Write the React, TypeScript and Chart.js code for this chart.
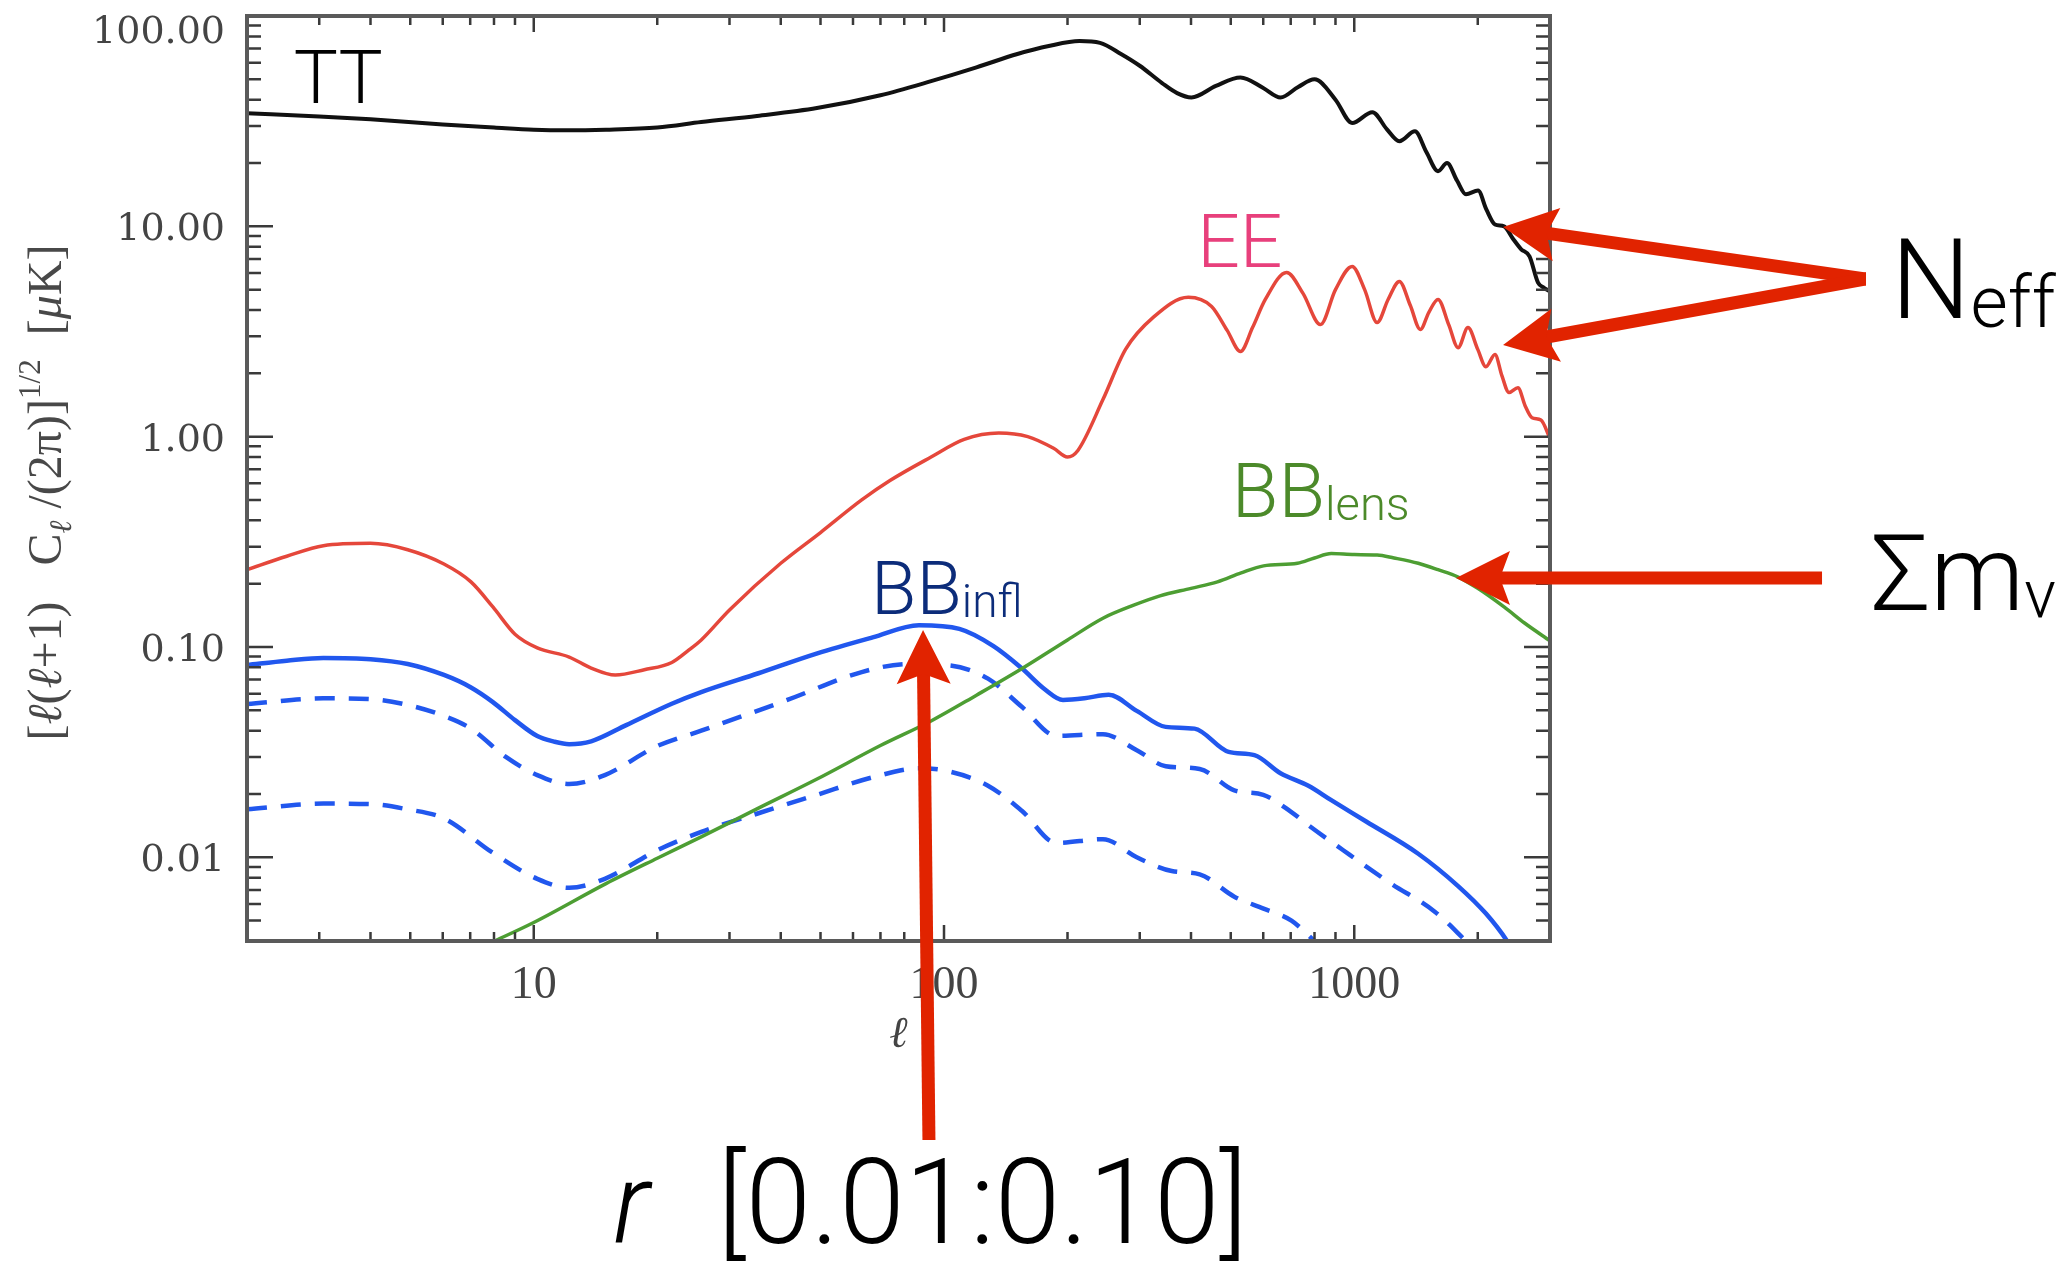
import React, { useEffect, useRef } from 'react';
import { Chart, registerables } from 'chart.js';

Chart.register(...registerables);

const CANVAS_W = 2067;
const CANVAS_H = 1264;

// ---- axes ----
const X_MIN = 2;
const X_MAX = 3000;
const Y_MIN = 0.004;
const Y_MAX = 100;
const X_TICKS = [10, 100, 1000];
const X_TICK_LABELS = ['10', '100', '1000'];
const Y_TICKS = [0.01, 0.1, 1, 10, 100];
const Y_TICK_LABELS = ['0.01', '0.10', '1.00', '10.00', '100.00'];
const X_TITLE = 'ℓ';

// ---- TT ----
const TT_ELL = [2, 3, 4, 6, 8, 10, 12, 15, 20, 25.6, 35, 49, 70, 93, 120, 151, 180, 214, 240, 270, 300, 340, 370, 401, 460, 528, 600, 661, 730, 800, 900, 988, 1107, 1200, 1288, 1406, 1500, 1600, 1683, 1780, 1872, 2003, 2100, 2203, 2318, 2430, 2549, 2674, 2805, 2900, 3000];
const TT_VAL = [34.5, 33.3, 32.3, 30.5, 29.5, 28.8, 28.6, 28.8, 29.5, 31.3, 33.5, 36.5, 42, 49, 57, 66, 72, 76, 74.5, 66, 58, 48, 43, 41, 46.5, 51, 45.5, 41, 46, 50, 40, 31, 34.9, 29, 25.4, 28.3, 22.5, 18.3, 20, 16.5, 14.2, 14.8, 12, 10.2, 10.0, 8.8, 7.8, 7.2, 5.4, 5.1, 4.9];

// ---- EE ----
const EE_ELL = [2, 2.5, 3.07, 4, 4.93, 6.04, 7.03, 7.95, 9, 10.2, 12.2, 13.8, 15.8, 18.6, 21.7, 23.9, 25.6, 30, 40, 50, 63, 74, 93, 112, 136, 160, 185, 200, 212, 244, 277, 324, 394, 449, 490, 528, 565, 607, 684, 750, 827, 900, 988, 1060, 1137, 1210, 1288, 1370, 1449, 1520, 1600, 1700, 1791, 1893, 2000, 2094, 2203, 2290, 2383, 2506, 2610, 2712, 2851, 3000];
const EE_VAL = [0.233, 0.27, 0.303, 0.311, 0.29, 0.248, 0.204, 0.155, 0.115, 0.099, 0.0896, 0.0794, 0.0736, 0.078, 0.0844, 0.0968, 0.108, 0.15, 0.25, 0.35, 0.5, 0.62, 0.8, 0.97, 1.04, 1.0, 0.88, 0.8, 0.86, 1.5, 2.6, 3.7, 4.6, 4.16, 3.2, 2.54, 3.3, 4.49, 6.04, 4.8, 3.41, 5.0, 6.45, 5.0, 3.49, 4.5, 5.47, 4.2, 3.23, 3.9, 4.49, 3.4, 2.65, 3.3, 2.6, 2.15, 2.46, 1.95, 1.62, 1.71, 1.4, 1.23, 1.2, 0.98];

// ---- BB lensing ----
const BBL_ELL = [7.8, 10, 15, 20, 25.6, 35, 48.9, 70, 93, 120, 155, 200, 244, 290, 336, 400, 464, 530, 601, 727, 800, 879, 1000, 1137, 1250, 1432, 1600, 1791, 2000, 2318, 2600, 3000];
const BBL_VAL = [0.0039, 0.0049, 0.0075, 0.0099, 0.0125, 0.017, 0.0235, 0.034, 0.0445, 0.059, 0.079, 0.108, 0.137, 0.158, 0.175, 0.19, 0.204, 0.225, 0.243, 0.25, 0.265, 0.278, 0.275, 0.274, 0.265, 0.25, 0.233, 0.215, 0.19, 0.155, 0.13, 0.107];

// ---- BB inflation (solid) ----
const BBI_ELL = [2, 2.5, 3.07, 4, 4.93, 6.04, 7.03, 7.95, 9, 10.2, 11.2, 12.2, 13.8, 16.8, 21.7, 25.6, 35.3, 48.9, 67, 86.9, 109, 132, 155, 176, 195, 220, 252, 295, 347, 408, 494, 571, 661, 773, 879, 1069, 1432, 1791, 2094, 2357, 2450];
const BBI_VAL = [0.082, 0.086, 0.0887, 0.0875, 0.083, 0.0736, 0.0642, 0.0547, 0.0449, 0.0377, 0.0355, 0.0345, 0.0356, 0.0425, 0.0537, 0.061, 0.075, 0.093, 0.111, 0.127, 0.122, 0.101, 0.079, 0.063, 0.056, 0.057, 0.0593, 0.0497, 0.0417, 0.0409, 0.0317, 0.0306, 0.0251, 0.0219, 0.0187, 0.0148, 0.0104, 0.0073, 0.0054, 0.004, 0.0035];

// ---- BB inflation (upper dashed) ----
const BBD1_ELL = [2, 3.07, 4, 4.93, 6.04, 7.03, 8.55, 10.2, 12.2, 14.9, 20, 25.6, 41.5, 63, 81.7, 102, 128, 155, 188, 244, 295, 347, 420, 510, 600, 700, 773, 940, 1217, 1574, 1872, 1950];
const BBD1_VAL = [0.0535, 0.057, 0.0565, 0.053, 0.047, 0.0409, 0.030, 0.0246, 0.0223, 0.0246, 0.0338, 0.040, 0.056, 0.076, 0.083, 0.082, 0.0707, 0.0518, 0.0378, 0.0385, 0.0323, 0.0271, 0.0263, 0.0208, 0.0198, 0.0165, 0.0142, 0.0108, 0.0076, 0.0055, 0.004, 0.0037];

// ---- BB inflation (lower dashed) ----
const BBD2_ELL = [2, 3.07, 4, 4.93, 6.04, 7.95, 10.2, 12.2, 14.9, 20, 25.6, 35.3, 48.9, 67, 86.9, 102, 128, 155, 188, 244, 295, 359, 420, 510, 601, 703, 800, 850];
const BBD2_VAL = [0.0169, 0.018, 0.0179, 0.0169, 0.0153, 0.0105, 0.0079, 0.00716, 0.0079, 0.0108, 0.0132, 0.0162, 0.0198, 0.0240, 0.0265, 0.0257, 0.0219, 0.0166, 0.0117, 0.0122, 0.0100, 0.0086, 0.0083, 0.0065, 0.0057, 0.0050, 0.0040, 0.0036];

// ---- annotations (anchored in data coordinates: ell, value) ----
const ANNOTATION_LABELS = [
  { ell: 2.6, val: 38.6, color: '#000000', parts: [{ text: 'TT', size: 74 }] },
  { ell: 414, val: 6.41, color: '#e8407c', parts: [{ text: 'EE', size: 75 }] },
  { ell: 66.4, val: 0.1435, color: '#0c2c7a', parts: [{ text: 'BB', size: 74 }, { text: 'infl', size: 46, dy: 3 }] },
  { ell: 503, val: 0.415, color: '#4c8a2a', parts: [{ text: 'BB', size: 76 }, { text: 'lens', size: 47, dy: 3 }] },
  { ell: 20340, val: 3.67, color: '#000000', parts: [{ text: 'N', size: 112 }, { text: 'eff', size: 72, dy: 9 }] },
  { ell: 18180, val: 0.15, color: '#000000', parts: [{ text: 'Σm', size: 106 }, { text: 'ν', size: 66, dy: 7 }] },
  { ell: 15.6, val: 0.0001466, color: '#000000', parts: [{ text: 'r', size: 112, italic: true }] },
  { ell: 28.0, val: 0.0001466, color: '#000000', parts: [{ text: '[0.01:0.10]', size: 118 }] },
];
const ANNOTATION_ARROWS = [
  { tip: [2305, 9.93], tail: [17680, 5.62], cut: true },
  { tip: [2305, 2.73], tail: [17680, 5.62], cut: true },
  { tip: [1770, 0.213], tail: [13810, 0.213], cut: false },
  { tip: [88.9, 0.1204], tail: [91.9, 0.000453], cut: false },
];
const ARROW_COLOR = '#e12300';
const ARROW_SHAFT = 13;
const ARROW_HEAD_LEN = 54;
const ARROW_HEAD_HALF = 27;
const ARROW_NOTCH = 44;

const Y_TITLE_SEGMENTS = [
  { text: '[' },
  { text: 'ℓ', italic: true },
  { text: '(' },
  { text: 'ℓ', italic: true },
  { text: '+1)   C' },
  { text: 'ℓ', italic: true, small: true, dy: 10 },
  { text: ' /(2π)]' },
  { text: '1/2', small: true, dy: -21 },
  { text: '  [' },
  { text: 'μ', italic: true },
  { text: 'K]' },
];

const SERIF = '"Liberation Serif", "DejaVu Serif", serif';
const TICK_SERIF = '"DejaVu Serif", "Liberation Serif", serif';
const SANS = 'Roboto, "Liberation Sans", sans-serif';

function pts(ells: number[], vals: number[]) {
  return ells.map((x, i) => ({ x, y: vals[i] }));
}

function drawArrow(ctx: any, tx: number, ty: number, sx: number, sy: number, cut: boolean) {
  const dx = sx - tx;
  const dy = sy - ty;
  const len = Math.hypot(dx, dy);
  const ux = dx / len;
  const uy = dy / len;
  const nx = -uy;
  const ny = ux;
  ctx.save();
  if (cut) {
    ctx.beginPath();
    ctx.rect(0, 0, sx, 100000);
    ctx.clip();
  }
  const ext = cut ? 20 : 0;
  ctx.lineWidth = ARROW_SHAFT;
  ctx.lineCap = 'butt';
  ctx.beginPath();
  ctx.moveTo(tx + ux * (ARROW_NOTCH - 4), ty + uy * (ARROW_NOTCH - 4));
  ctx.lineTo(sx + ux * ext, sy + uy * ext);
  ctx.stroke();
  ctx.restore();
  ctx.beginPath();
  ctx.moveTo(tx, ty);
  ctx.lineTo(tx + ux * ARROW_HEAD_LEN + nx * ARROW_HEAD_HALF, ty + uy * ARROW_HEAD_LEN + ny * ARROW_HEAD_HALF);
  ctx.lineTo(tx + ux * ARROW_NOTCH, ty + uy * ARROW_NOTCH);
  ctx.lineTo(tx + ux * ARROW_HEAD_LEN - nx * ARROW_HEAD_HALF, ty + uy * ARROW_HEAD_LEN - ny * ARROW_HEAD_HALF);
  ctx.closePath();
  ctx.fill();
}

const frameAndTicks = {
  id: 'frameAndTicks',
  afterDatasetsDraw(chart: any) {
    const { ctx, chartArea } = chart;
    const { left, right, top, bottom } = chartArea;
    const xs = chart.scales.x;
    const ys = chart.scales.y;
    ctx.save();
    ctx.strokeStyle = '#3a3a3a';
    ctx.lineWidth = 2.5;
    ctx.beginPath();
    for (let e = -3; e <= 2; e++) {
      for (let m = 1; m <= 9; m++) {
        const v = m * Math.pow(10, e);
        if (v < Y_MIN * 0.999 || v > Y_MAX * 1.001) continue;
        const py = ys.getPixelForValue(v);
        const len = m === 1 ? 26 : 14;
        ctx.moveTo(left, py);
        ctx.lineTo(left + len, py);
        ctx.moveTo(right, py);
        ctx.lineTo(right - len, py);
      }
    }
    for (let e = 0; e <= 3; e++) {
      for (let m = 1; m <= 9; m++) {
        const v = m * Math.pow(10, e);
        if (v < X_MIN * 1.001 || v > X_MAX * 0.999) continue;
        const px = xs.getPixelForValue(v);
        const len = m === 1 ? 16 : 9;
        ctx.moveTo(px, bottom);
        ctx.lineTo(px, bottom - len);
        ctx.moveTo(px, top);
        ctx.lineTo(px, top + len);
      }
    }
    ctx.stroke();
    ctx.strokeStyle = '#5a5a5a';
    ctx.lineWidth = 4;
    ctx.strokeRect(left, top, right - left, bottom - top);
    ctx.restore();
  },
};

const yTitle = {
  id: 'yTitle',
  afterDraw(chart: any) {
    const { ctx, chartArea } = chart;
    const cy = (chartArea.top + chartArea.bottom) / 2 + 14;
    const fontOf = (s: any) => `${s.italic ? 'italic ' : ''}${s.small ? 31 : 48}px ${SERIF}`;
    ctx.save();
    ctx.fillStyle = '#484848';
    ctx.textBaseline = 'alphabetic';
    ctx.textAlign = 'left';
    let total = 0;
    const widths = Y_TITLE_SEGMENTS.map((s: any) => {
      ctx.font = fontOf(s);
      const w = ctx.measureText(s.text).width;
      total += w;
      return w;
    });
    ctx.translate(chartArea.left - 186, cy);
    ctx.rotate(-Math.PI / 2);
    let x = -total / 2;
    Y_TITLE_SEGMENTS.forEach((s: any, i: number) => {
      ctx.font = fontOf(s);
      ctx.fillText(s.text, x, s.dy || 0);
      x += widths[i];
    });
    ctx.restore();
  },
};

const annotations = {
  id: 'annotations',
  afterDraw(chart: any) {
    const { ctx } = chart;
    const xs = chart.scales.x;
    const ys = chart.scales.y;
    const P = (l: number, v: number) => [xs.getPixelForValue(l), ys.getPixelForValue(v)];
    ctx.save();
    ctx.fillStyle = ARROW_COLOR;
    ctx.strokeStyle = ARROW_COLOR;
    for (const a of ANNOTATION_ARROWS) {
      const [tx, ty] = P(a.tip[0], a.tip[1]);
      const [sx, sy] = P(a.tail[0], a.tail[1]);
      drawArrow(ctx, tx, ty, sx, sy, a.cut);
    }
    ctx.textBaseline = 'alphabetic';
    ctx.textAlign = 'left';
    for (const lab of ANNOTATION_LABELS) {
      let [x, y] = P(lab.ell, lab.val);
      ctx.fillStyle = lab.color;
      for (const p of lab.parts as any[]) {
        ctx.font = `${p.italic ? 'italic ' : ''}300 ${p.size}px ${SANS}`;
        ctx.fillText(p.text, x, y + (p.dy || 0));
        x += ctx.measureText(p.text).width;
      }
    }
    ctx.restore();
  },
};

export default function App() {
  const canvasRef = useRef<HTMLCanvasElement | null>(null);

  useEffect(() => {
    const canvas = canvasRef.current;
    if (!canvas) return;
    const line = (data: any, color: string, width: number, dash: number[] = []) => ({
      data,
      borderColor: color,
      borderWidth: width,
      borderDash: dash,
      pointRadius: 0,
      fill: false,
      clip: 0,
      cubicInterpolationMode: 'monotone',
    });
    const chart = new Chart(canvas, {
      type: 'line',
      data: {
        datasets: [
          { label: 'TT', ...line(pts(TT_ELL, TT_VAL), '#111111', 4) },
          { label: 'EE', ...line(pts(EE_ELL, EE_VAL), '#e5473b', 3.5) },
          { label: 'BB lens', ...line(pts(BBL_ELL, BBL_VAL), '#4d9e33', 3.5) },
          { label: 'BB infl', ...line(pts(BBI_ELL, BBI_VAL), '#2157ee', 4.5) },
          { label: 'BB infl r2', ...line(pts(BBD1_ELL, BBD1_VAL), '#2157ee', 4.5, [20, 14]) },
          { label: 'BB infl r3', ...line(pts(BBD2_ELL, BBD2_VAL), '#2157ee', 4.5, [20, 14]) },
        ] as any,
      },
      options: {
        responsive: false,
        animation: false,
        devicePixelRatio: 1,
        layout: { padding: { left: 0, top: 16, right: CANVAS_W - 1550, bottom: 0 } },
        plugins: {
          legend: { display: false },
          tooltip: { enabled: false },
          title: { display: false },
        },
        elements: { point: { radius: 0 } },
        scales: {
          x: {
            type: 'logarithmic',
            position: 'bottom',
            min: X_MIN,
            max: X_MAX,
            bounds: 'data',
            grid: { display: false, drawTicks: false },
            border: { display: false },
            afterBuildTicks: (s: any) => {
              s.ticks = X_TICKS.map((v) => ({ value: v }));
            },
            ticks: {
              autoSkip: false,
              maxRotation: 0,
              minRotation: 0,
              padding: 22,
              color: '#444444',
              font: { family: SERIF, size: 46, lineHeight: 1 },
              callback: (_v: any, i: number) => X_TICK_LABELS[i],
            },
            title: {
              display: true,
              text: X_TITLE,
              color: '#444444',
              font: { family: SERIF, size: 44, style: 'italic', lineHeight: 1 },
              padding: { top: 0, bottom: 207 },
            },
            afterFit: (s: any) => {
              s.height = CANVAS_H - 941;
              s.paddingLeft = 0;
              s.paddingRight = 0;
            },
          },
          y: {
            type: 'logarithmic',
            position: 'left',
            min: Y_MIN,
            max: Y_MAX,
            bounds: 'data',
            grid: { display: false, drawTicks: false },
            border: { display: false },
            afterBuildTicks: (s: any) => {
              s.ticks = Y_TICKS.map((v) => ({ value: v }));
            },
            ticks: {
              autoSkip: false,
              padding: 22,
              labelOffset: 4,
              color: '#444444',
              font: { family: TICK_SERIF, size: 38, lineHeight: 0.7 },
              callback: (_v: any, i: number) =>
                i === Y_TICK_LABELS.length - 1 ? ['', Y_TICK_LABELS[i]] : Y_TICK_LABELS[i],
            },
            afterFit: (s: any) => {
              s.width = 247;
              s.paddingTop = 0;
              s.paddingBottom = 0;
            },
          },
        },
      } as any,
      plugins: [frameAndTicks, yTitle, annotations],
    });
    return () => chart.destroy();
  }, []);

  return (
    <div style={{ position: 'absolute', left: 0, top: 0, width: CANVAS_W, height: CANVAS_H, background: '#ffffff' }}>
      <canvas ref={canvasRef} width={CANVAS_W} height={CANVAS_H} style={{ display: 'block' }} />
    </div>
  );
}
